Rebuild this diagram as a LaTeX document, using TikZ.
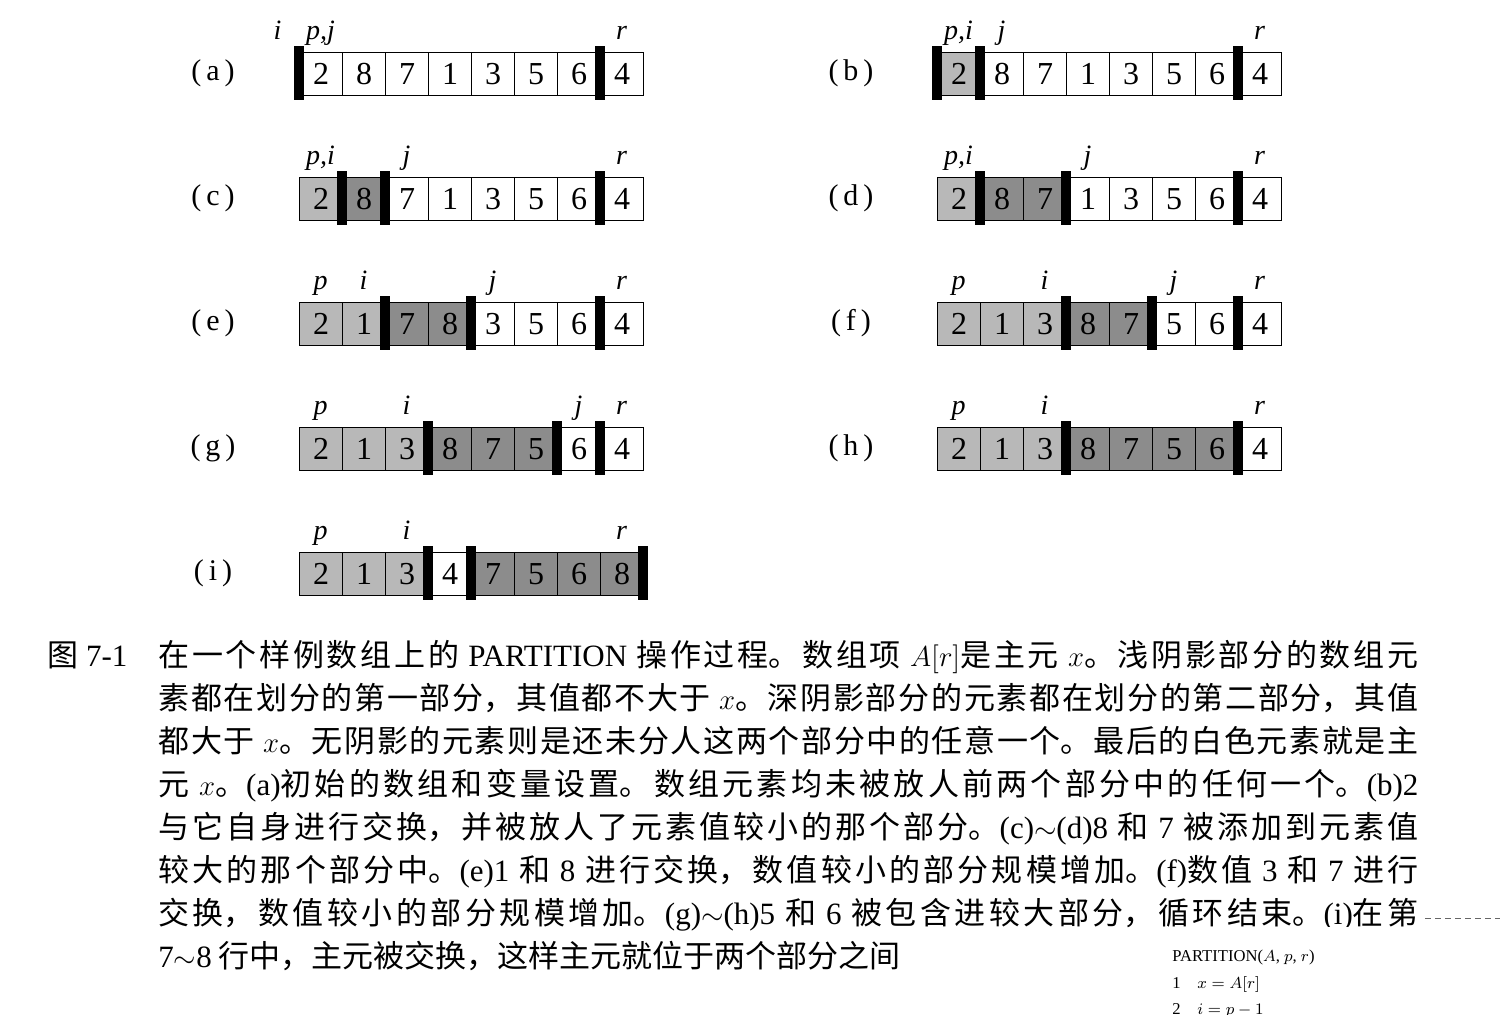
\documentclass[tikz,border=0pt]{standalone}
\usepackage{fontspec}
\setmainfont{Liberation Serif}
\newfontfamily\cjk{Noto Sans CJK SC}
\XeTeXlinebreaklocale "zh"
\XeTeXlinebreakskip=0pt plus 2pt
\newcommand{\lat}[1]{{\rmfamily #1}}

\tikzset{
  cell/.style={draw,line width=0.7pt,minimum width=21.5pt,minimum height=21.5pt,
    inner sep=0pt,anchor=north west,font=\fontsize{16}{16}\selectfont},
  undone/.style={fill=white},
  lesspart/.style={fill=black!28},
  morepart/.style={fill=black!45},
  idx/.style={anchor=base,inner sep=0pt,font=\fontsize{14}{14}\selectfont\itshape},
  rowlbl/.style={inner sep=0pt,font=\fontsize{15}{15}\selectfont},
  caption/.style={inner sep=0pt,text width=630pt,align=justify,
    font=\cjk\fontsize{15.5}{21.5}\selectfont},
}

% one array row: name, left x, top y, cells (value/shade), bars, index labels
\newcommand{\partrow}[6]{%
  \foreach \val/\sh [count=\k] in {#4} {
    \node[cell,\sh] (#1\k) at ({#2+(\k-1)*43},#3) {\val};
  }
  \foreach \b in {#5} {
    \fill[black] ({#2+\b*43-5},{#3-6}) rectangle ({#2+\b*43+5},{#3+48});
  }
  \foreach \k/\lbl in {#6} {
    \node[idx] (#1-\k) at ({#2+(\k-0.5)*43},{#3-12}) {\lbl};
  }
}

\begin{document}
\begin{tikzpicture}[x=0.5pt,y=-0.5pt]
  \useasboundingbox (0,0) rectangle (1500,1015);

  % Left column
  \node[rowlbl] (lab-a) at (213,73) {(\,a\,)};
  \partrow{a}{299}{52}{2/undone,8/undone,7/undone,1/undone,3/undone,5/undone,6/undone,4/undone}{0,7}{0/i,1/{p,j},8/r}
  \node[rowlbl] (lab-c) at (213,198) {(\,c\,)};
  \partrow{c}{299}{177}{2/lesspart,8/morepart,7/undone,1/undone,3/undone,5/undone,6/undone,4/undone}{1,2,7}{1/{p,i},3/j,8/r}
  \node[rowlbl] (lab-e) at (213,323) {(\,e\,)};
  \partrow{e}{299}{302}{2/lesspart,1/lesspart,7/morepart,8/morepart,3/undone,5/undone,6/undone,4/undone}{2,4,7}{1/p,2/i,5/j,8/r}
  \node[rowlbl] (lab-g) at (213,448) {(\,g\,)};
  \partrow{g}{299}{427}{2/lesspart,1/lesspart,3/lesspart,8/morepart,7/morepart,5/morepart,6/undone,4/undone}{3,6,7}{1/p,3/i,7/j,8/r}
  \node[rowlbl] (lab-i) at (213,573) {(\,i\,)};
  \partrow{i}{299}{552}{2/lesspart,1/lesspart,3/lesspart,4/undone,7/morepart,5/morepart,6/morepart,8/morepart}{3,4,8}{1/p,3/i,8/r}

  % Right column
  \node[rowlbl] (lab-b) at (851,73) {(\,b\,)};
  \partrow{b}{937}{52}{2/lesspart,8/undone,7/undone,1/undone,3/undone,5/undone,6/undone,4/undone}{0,1,7}{1/{p,i},2/j,8/r}
  \node[rowlbl] (lab-d) at (851,198) {(\,d\,)};
  \partrow{d}{937}{177}{2/lesspart,8/morepart,7/morepart,1/undone,3/undone,5/undone,6/undone,4/undone}{1,3,7}{1/{p,i},4/j,8/r}
  \node[rowlbl] (lab-f) at (851,323) {(\,f\,)};
  \partrow{f}{937}{302}{2/lesspart,1/lesspart,3/lesspart,8/morepart,7/morepart,5/undone,6/undone,4/undone}{3,5,7}{1/p,3/i,6/j,8/r}
  \node[rowlbl] (lab-h) at (851,448) {(\,h\,)};
  \partrow{h}{937}{427}{2/lesspart,1/lesspart,3/lesspart,8/morepart,7/morepart,5/morepart,6/morepart,4/undone}{3,7}{1/p,3/i,8/r}

  % Caption
  \node[anchor=base west,inner sep=0pt,font=\fontsize{15.5}{21.5}\selectfont] (fig) at (47,667) {{\cjk 图}\lat{ 7-1}};
  \node[caption,anchor=north west] (cap) at (158,640) {\noindent
    在一个样例数组上的 \lat{PARTITION} 操作过程。数组项 $A[r]$是主元 $x$。浅阴影部分的数组元\linebreak
    素都在划分的第一部分，其值都不大于 $x$。深阴影部分的元素都在划分的第二部分，其值\linebreak
    都大于 $x$。无阴影的元素则是还未分人这两个部分中的任意一个。最后的白色元素就是主\linebreak
    元 $x$。\lat{(a)}初始的数组和变量设置。数组元素均未被放人前两个部分中的任何一个。\lat{(b)2}\linebreak
    与它自身进行交换，并被放人了元素值较小的那个部分。\lat{(c)$\sim$(d)8} 和 \lat{7} 被添加到元素值\linebreak
    较大的那个部分中。\lat{(e)1} 和 \lat{8} 进行交换，数值较小的部分规模增加。\lat{(f)}数值 \lat{3} 和 \lat{7} 进行\linebreak
    交换，数值较小的部分规模增加。\lat{(g)$\sim$(h)5} 和 \lat{6} 被包含进较大部分，循环结束。\lat{(i)}在第\linebreak
    \lat{7$\sim$8} 行中，主元被交换，这样主元就位于两个部分之间};

  % Pasted code fragment
  \fill[white] (1160,927) rectangle (1500,1015);
  \draw[black!60,densely dashed] (1425,918) -- (1500,918);
  \node[anchor=base west,inner sep=0pt,font=\fontsize{8.3}{10}\selectfont] (code0) at (1172,961) {PARTITION($A$, $p$, $r$)};
  \node[anchor=base west,inner sep=0pt,font=\fontsize{8.3}{10}\selectfont] (code1) at (1172,988) {1\quad $x=A[r]$};
  \node[anchor=base west,inner sep=0pt,font=\fontsize{8.3}{10}\selectfont] (code2) at (1172,1014) {2\quad $i=p-1$};
\end{tikzpicture}
\end{document}
